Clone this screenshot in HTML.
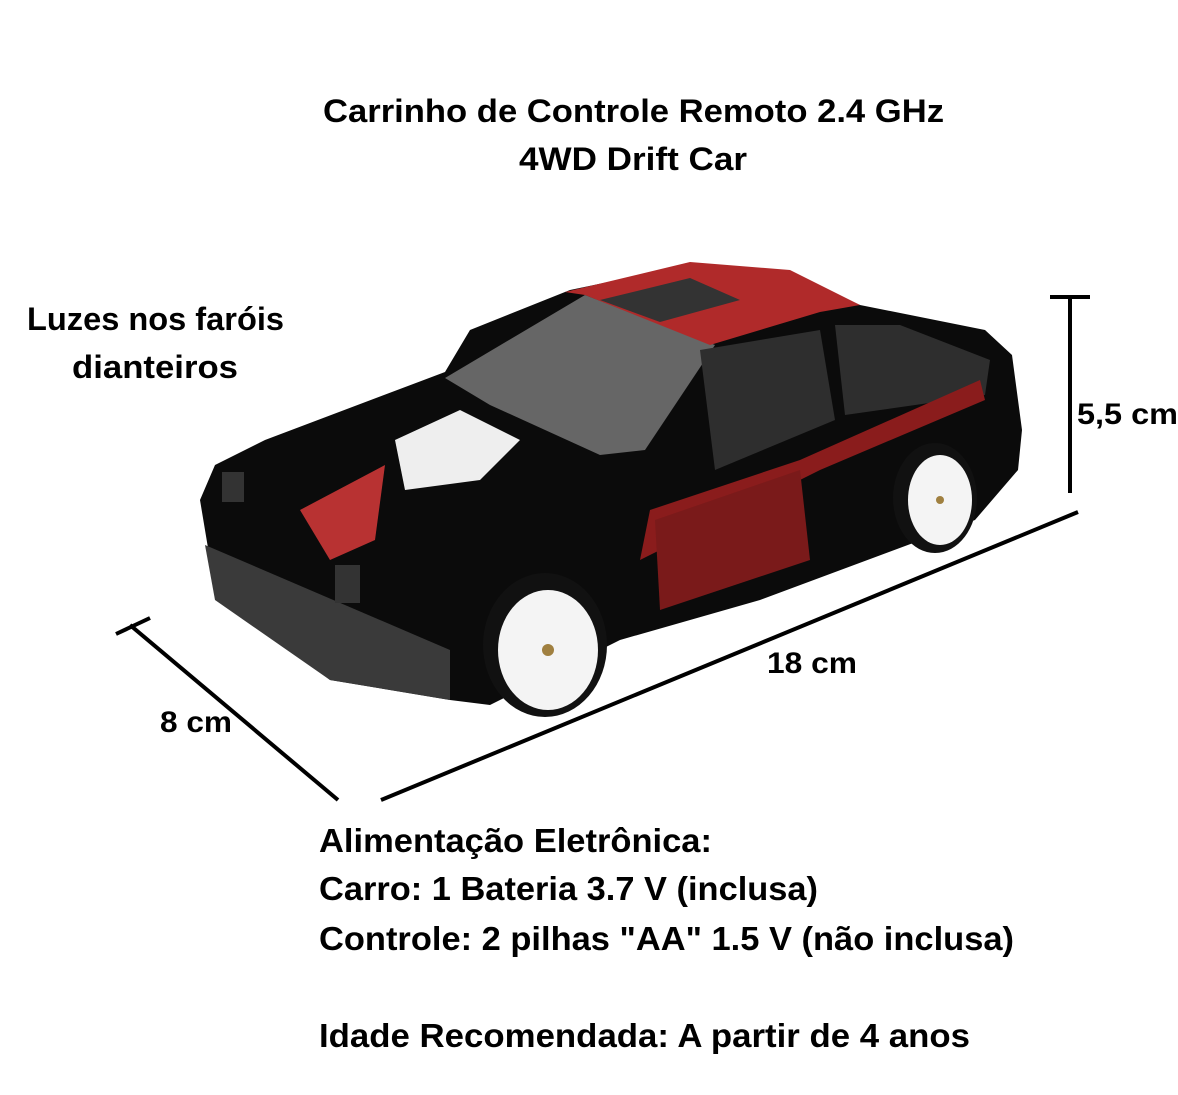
<!DOCTYPE html>
<html><head><meta charset="utf-8"><style>
html,body{margin:0;padding:0;background:#fff}
svg{display:block}
text{font-family:"Liberation Sans",sans-serif;font-weight:bold;fill:#000}
</style></head><body>
<svg width="1178" height="1095" viewBox="0 0 1178 1095" xmlns="http://www.w3.org/2000/svg">
<rect width="1178" height="1095" fill="#fff"/>
<text x="323" y="122" font-size="32" textLength="621" lengthAdjust="spacingAndGlyphs">Carrinho de Controle Remoto 2.4 GHz</text>
<text x="519" y="170" font-size="32" textLength="228" lengthAdjust="spacingAndGlyphs">4WD Drift Car</text>
<text x="27" y="330" font-size="32" textLength="257" lengthAdjust="spacingAndGlyphs">Luzes nos faróis</text>
<text x="72" y="378" font-size="32" textLength="166" lengthAdjust="spacingAndGlyphs">dianteiros</text>
<text x="1077" y="424" font-size="30" textLength="101" lengthAdjust="spacingAndGlyphs">5,5 cm</text>
<text x="767" y="673" font-size="30" textLength="90" lengthAdjust="spacingAndGlyphs">18 cm</text>
<text x="160" y="732" font-size="30" textLength="72" lengthAdjust="spacingAndGlyphs">8 cm</text>
<text x="319" y="852" font-size="33" textLength="393" lengthAdjust="spacingAndGlyphs">Alimentação Eletrônica:</text>
<text x="319" y="900" font-size="33" textLength="499" lengthAdjust="spacingAndGlyphs">Carro: 1 Bateria 3.7 V (inclusa)</text>
<text x="319" y="950" font-size="33" textLength="695" lengthAdjust="spacingAndGlyphs">Controle: 2 pilhas "AA" 1.5 V (não inclusa)</text>
<text x="319" y="1047" font-size="33" textLength="651" lengthAdjust="spacingAndGlyphs">Idade Recomendada: A partir de 4 anos</text>
<g stroke="#000" stroke-width="4" fill="none">
<line x1="1070" y1="297" x2="1070" y2="493"/>
<line x1="1050" y1="297" x2="1090" y2="297"/>
<line x1="381" y1="800" x2="1078" y2="512"/>
<line x1="130" y1="625" x2="338" y2="800"/>
<line x1="116" y1="634" x2="150" y2="618"/>
</g>
<polygon points="200,500 215,465 265,440 445,372 470,330 570,290 690,265 795,275 860,305 985,330 1012,355 1022,430 1018,470 975,520 760,600 620,640 490,705 450,700 330,680 215,590" fill="#0b0b0b"/>
<polygon points="205,545 450,650 450,700 330,680 215,600" fill="#3a3a3a"/>
<polygon points="445,378 585,295 715,345 645,450 600,455 490,405" fill="#666"/>
<polygon points="565,292 690,262 790,270 860,305 820,312 710,345 585,295" fill="#b02a2a"/>
<polygon points="600,300 690,278 740,300 660,322" fill="#333"/>
<polygon points="700,350 820,330 835,420 715,470" fill="#2e2e2e"/>
<polygon points="835,325 900,325 990,360 985,395 845,415" fill="#2e2e2e"/>
<polygon points="650,510 800,460 980,380 985,400 820,470 640,560" fill="#8a1c1c"/>
<polygon points="655,520 800,470 810,560 660,610" fill="#7a1a1a"/>
<polygon points="395,440 460,410 520,440 480,480 405,490" fill="#eee"/>
<polygon points="300,510 385,465 375,540 330,560" fill="#b83232"/>
<rect x="222" y="472" width="22" height="30" fill="#333"/>
<rect x="335" y="565" width="25" height="38" fill="#333"/>
<ellipse cx="545" cy="645" rx="62" ry="72" fill="#111"/>
<ellipse cx="548" cy="650" rx="50" ry="60" fill="#f4f4f4"/>
<circle cx="548" cy="650" r="6" fill="#a08040"/>
<ellipse cx="935" cy="498" rx="42" ry="55" fill="#111"/>
<ellipse cx="940" cy="500" rx="32" ry="45" fill="#f4f4f4"/>
<circle cx="940" cy="500" r="4" fill="#a08040"/>
</svg>
</body></html>
